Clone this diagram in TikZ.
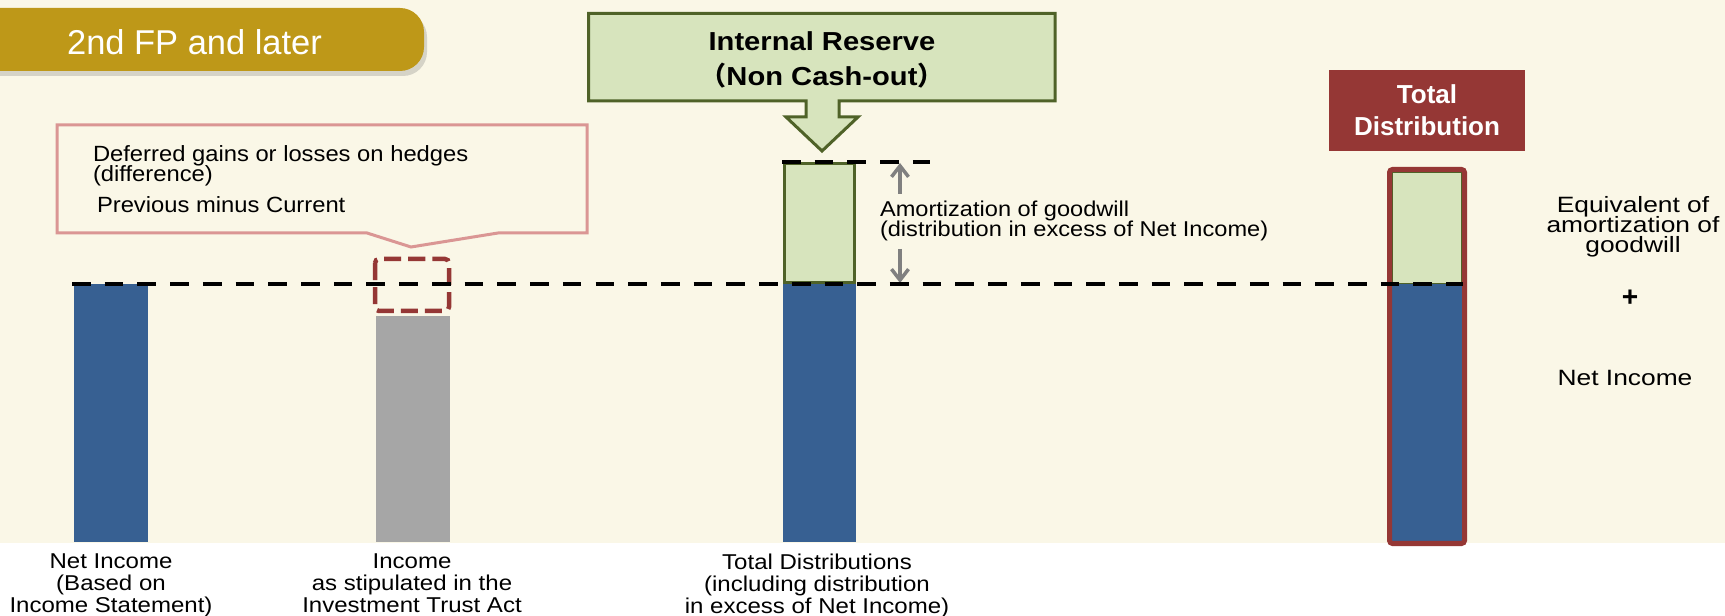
\documentclass[tikz,border=0pt]{standalone}
\usepackage{fontspec}
\setmainfont{Liberation Sans}
\newfontfamily\cjkfont{Noto Sans CJK JP}
\usetikzlibrary{arrows.meta,shadows}

\definecolor{cream}{HTML}{FAF7E7}
\definecolor{gold}{HTML}{BE9818}
\definecolor{barblue}{HTML}{376092}
\definecolor{bargray}{HTML}{A6A6A6}
\definecolor{palegreen}{HTML}{D7E4BD}
\definecolor{olive}{HTML}{4F6228}
\definecolor{darkred}{HTML}{953735}
\definecolor{pinkline}{HTML}{DA9694}
\definecolor{arrowgray}{HTML}{808080}

% size, line distance, horizontal stretch
\newcommand\setfnt[3]{\fontsize{#1}{#2}\selectfont\addfontfeature{FakeStretch=#3}\lineskiplimit=-\maxdimen}

\tikzset{
  txt/.style={inner sep=0pt, outer sep=0pt, text=black},
  titletext/.style={txt, text=white, font=\setfnt{9.8pt}{11pt}{1.0}},
  calltext/.style={txt, align=left, font=\setfnt{6.26pt}{5.69pt}{1.08}},
  amttext/.style={txt, align=left, font=\setfnt{6.1pt}{5.69pt}{1.1}},
  sidetext/.style={txt, align=center, font=\setfnt{6.3pt}{5.75pt}{1.19}},
  labeltext/.style={txt, align=center, font=\setfnt{6.1pt}{6.26pt}{1.12}},
  boxtitle/.style={txt, align=center, font=\bfseries\setfnt{7.4pt}{9.96pt}{1.12}},
  refline/.style={draw=black, line width=0.04cm, dash pattern=on 0.187cm off 0.14cm},
  greenbox/.style={draw=olive, fill=palegreen, line width=0.03cm},
  garrow/.style={draw=arrowgray, line width=0.035cm, -{Straight Barb[length=0.11cm,width=0.17cm]}},
}

\begin{document}
\begin{tikzpicture}[x=0.01cm, y=-0.01cm]
\useasboundingbox (0,0) rectangle (1725,616);
\clip (0,0) rectangle (1725,616);
\fill[white] (0,0) rectangle (1725,616);
\fill[cream] (0,0) rectangle (1725,543);

% period tab
\fill[gold, rounded corners=0.24cm,
      drop shadow={shadow xshift=0.03cm, shadow yshift=-0.05cm, opacity=0.3}]
  (-40,8) rectangle (424,71);
\node[titletext, anchor=north] (tab) at (194.5,29.3) {2nd FP and later};

% hedge callout
\draw[pinkline, line width=0.03cm, line join=miter]
  (57,125) -- (587,125) -- (587,233) -- (498,233) -- (411,247) -- (367,233) -- (57,233) -- cycle;
\node[calltext, anchor=north west] (hedge) at (93,146) {Deferred gains or losses on hedges\\(difference)};
\node[calltext, anchor=north west] (prevcur) at (97,197) {Previous minus Current};

% bars
\fill[barblue] (74,284) rectangle (148,542);
\fill[bargray] (376,316) rectangle (450,542);
\draw[darkred, line width=0.045cm, dash pattern=on 0.17cm off 0.07cm, rounded corners=0.04cm]
  (375,259) rectangle (449,311);
\fill[barblue] (783,284) rectangle (856,542);
\draw[greenbox] (784.5,163.5) rectangle (854.5,283);

% internal reserve block arrow
\draw[greenbox, line join=miter]
  (588.5,13.5) -- (1055,13.5) -- (1055,101) -- (839,101) -- (839,117) -- (858,117)
  -- (822,151) -- (786,117) -- (806,117) -- (806,101) -- (588.5,101) -- cycle;
\node[boxtitle, anchor=north] (reserve) at (822,31.2)
  {Internal Reserve\\{\cjkfont （}Non Cash-out{\cjkfont ）}};

% goodwill span
\coordinate (amtTop) at (900,163);
\coordinate (amtUp) at (900,194);
\coordinate (amtDown) at (900,249);
\coordinate (amtBot) at (900,283);
\draw[garrow] (amtUp) -- (amtTop);
\draw[garrow] (amtDown) -- (amtBot);
\node[amttext, anchor=north west] (amort) at (880,201.2)
  {Amortization of goodwill\\(distribution in excess of Net Income)};

% total distribution bar
\fill[palegreen] (1392,172) rectangle (1462,284);
\draw[olive, line width=0.015cm] (1392,172) rectangle (1462,284);
\fill[barblue] (1392,284.5) rectangle (1462,542);
\draw[darkred, line width=0.05cm, rounded corners=0.03cm] (1389.5,169.5) rectangle (1464.5,543.5);

% reference levels
\coordinate (levelL) at (72,284);
\coordinate (levelR) at (1463,284);
\coordinate (topL) at (782,162);
\coordinate (topR) at (930,162);
\draw[refline] (levelL) -- (levelR);
\draw[refline] (topL) -- (topR);

% total distribution heading
\node[fill=darkred, minimum width=1.96cm, minimum height=0.81cm, inner sep=0pt,
      text=white, align=center, font=\bfseries\setfnt{7.4pt}{9.1pt}{1.0}]
  (total) at (1427,110.5) {Total\\Distribution};

% right-hand legend
\node[sidetext, anchor=north] (equiv) at (1633,196) {Equivalent of\\amortization of\\goodwill};
\node[sidetext, font=\bfseries\setfnt{8pt}{8pt}{1.0}] (plus) at (1630,298) {+};
\node[sidetext, anchor=north] (netinc) at (1625,370) {Net Income};

% bar captions
\node[labeltext, anchor=north] (lab1) at (111,554) {Net Income\\(Based on\\Income Statement)};
\node[labeltext, anchor=north] (lab2) at (412,554) {Income\\as stipulated in the\\Investment Trust Act};
\node[labeltext, anchor=north] (lab3) at (817,554) {Total Distributions\\(including distribution\\in excess of Net Income)};
\end{tikzpicture}
\end{document}
